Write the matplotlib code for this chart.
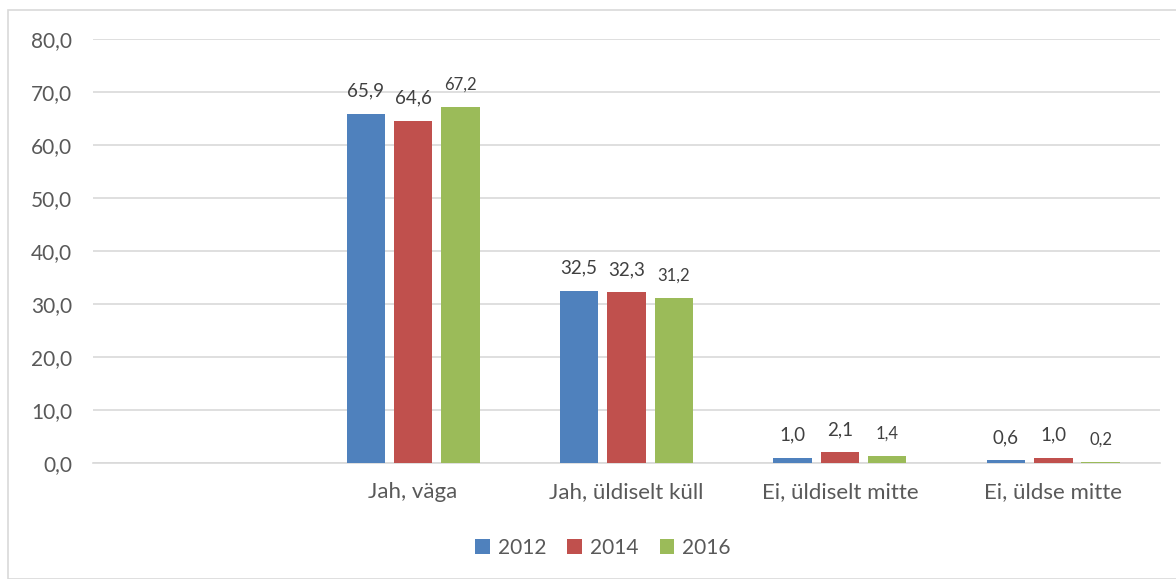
import matplotlib
matplotlib.use("Agg")
import matplotlib.pyplot as plt
import numpy as np
from matplotlib.patches import Rectangle

categories = ["", "Jah, väga", "Jah, üldiselt küll", "Ei, üldiselt mitte", "Ei, üldse mitte"]
years = ["2012", "2014", "2016"]
values_2012 = [np.nan, 65.9, 32.5, 1.0, 0.6]
values_2014 = [np.nan, 64.6, 32.3, 2.1, 1.0]
values_2016 = [np.nan, 67.2, 31.2, 1.4, 0.2]
series = [values_2012, values_2014, values_2016]
colors = ["#4F81BD", "#C0504D", "#9BBB59"]
label_sizes = [13.5, 13.5, 12]
yticks = [0, 10, 20, 30, 40, 50, 60, 70, 80]

plt.rcParams['font.family'] = ['Lato', 'DejaVu Sans']
fig = plt.figure(figsize=(11.76, 5.79), dpi=100)
ax = fig.add_axes([93/1176, 1-463/579, (1160-93)/1176, (463-39)/579])

# chart border
fig.patches.append(Rectangle((8/1176, 0), 1.2, 1-10/579, transform=fig.transFigure,
                             fill=False, edgecolor="#D9D9D9", linewidth=1.2))

x = np.arange(len(categories))
bw = 0.18
step = 0.222
for i, (vals, c) in enumerate(zip(series, colors)):
    pos = x + (i - 1) * step
    ax.bar(pos, vals, width=bw, color=c, label=years[i], zorder=3)
    for p, v in zip(pos, vals):
        if np.isnan(v):
            continue
        ax.annotate(f"{v:.1f}".replace(".", ","), (p, v), xytext=(0, 10),
                    textcoords="offset points", ha="center", va="bottom",
                    fontsize=label_sizes[i], color="#404040")

ax.set_xlim(-0.5, len(categories) - 0.5)
ax.set_ylim(0, 80)
ax.set_yticks(yticks)
ax.set_yticklabels([f"{t:.1f}".replace(".", ",") for t in yticks], fontsize=15, color="#595959")
ax.set_xticks(x)
ax.set_xticklabels(categories, fontsize=16, color="#595959")
ax.tick_params(axis="y", length=0, pad=15)
ax.tick_params(axis="x", length=0, pad=14)
ax.grid(axis="y", color="#D9D9D9", linewidth=1.2, zorder=0)
for s in ["top", "right", "left"]:
    ax.spines[s].set_visible(False)
ax.spines["bottom"].set_color("#D9D9D9")
ax.spines["bottom"].set_linewidth(1.2)

leg = fig.legend(loc="center", bbox_to_anchor=(603/1176, 1-548/579), ncol=3, frameon=False,
                 fontsize=15, handlelength=0.7, handleheight=0.7, columnspacing=1.0,
                 handletextpad=0.4)
for t in leg.get_texts():
    t.set_color("#595959")

fig.savefig("out.png", dpi=100)
